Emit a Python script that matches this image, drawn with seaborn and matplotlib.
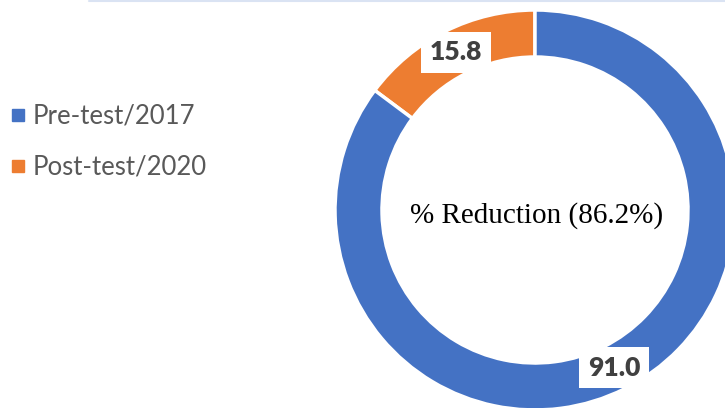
import matplotlib
matplotlib.use("Agg")
import matplotlib.pyplot as plt
from matplotlib.lines import Line2D
import numpy as np
import seaborn as sns

# Test results (ring order: Post-test first so it sits left of 12 o'clock)
categories = ["Pre-test/2017", "Post-test/2020"]
values = [91.0, 15.8]
colors = ["#4472C4", "#ED7D31"]
center_label = "% Reduction (86.2%)"

sns.set_theme(style="white")
plt.rcParams["font.family"] = ["Lato", "DejaVu Sans"]

W, H = 725, 408
fig = plt.figure(figsize=(W / 100, H / 100), dpi=100)
fig.patch.set_facecolor("white")

# donut: centre (535, 210) px, outer radius 200 px
cx, cy, R = 535, 210, 200
ax = fig.add_axes([(cx - R) / W, (H - cy - R) / H, 2 * R / W, 2 * R / H])
ax.set_xlim(-1, 1)
ax.set_ylim(-1, 1)
ax.set_aspect("equal")
ax.axis("off")

ring = 47 / 200
wedges, _ = ax.pie(
    [values[1], values[0]],
    colors=[colors[1], colors[0]],
    startangle=90,
    counterclock=True,
    radius=1.0,
    wedgeprops=dict(width=ring, edgecolor="white", linewidth=2.5),
)
ax.set_xlim(-1, 1)
ax.set_ylim(-1, 1)

# value labels at the middle of each wedge
for w, v in zip(wedges, [values[1], values[0]]):
    mid = np.deg2rad((w.theta1 + w.theta2) / 2)
    r = 1 - ring / 2
    ax.text(r * np.cos(mid), r * np.sin(mid), f"{v:.1f}",
            ha="center", va="center", fontsize=19, fontweight="heavy",
            color="#404040", family=["Lato", "DejaVu Sans"],
            bbox=dict(boxstyle="square,pad=0.33", fc="white", ec="none"))

ax.text(0.01, -0.03, center_label, ha="center", va="center",
        fontsize=21, color="black", family=["Liberation Serif"])

handles = [Line2D([], [], marker="s", linestyle="none", markersize=8,
                  markerfacecolor=c, markeredgecolor=c) for c in colors]
fig.legend(handles, categories, loc="upper left",
           bbox_to_anchor=(-8 / W, 1 - 86 / H), frameon=False,
           fontsize=18.5, labelcolor="#595959", handlelength=0.6,
           handletextpad=0.3, labelspacing=1.0, borderaxespad=0.3)

# thin frame line along the top edge
fig.add_artist(Line2D([89 / W, 1], [1 - 1 / H, 1 - 1 / H],
                      transform=fig.transFigure, color="#DAE3F3", lw=1.5))

fig.savefig("out.png", dpi=100, facecolor="white")
